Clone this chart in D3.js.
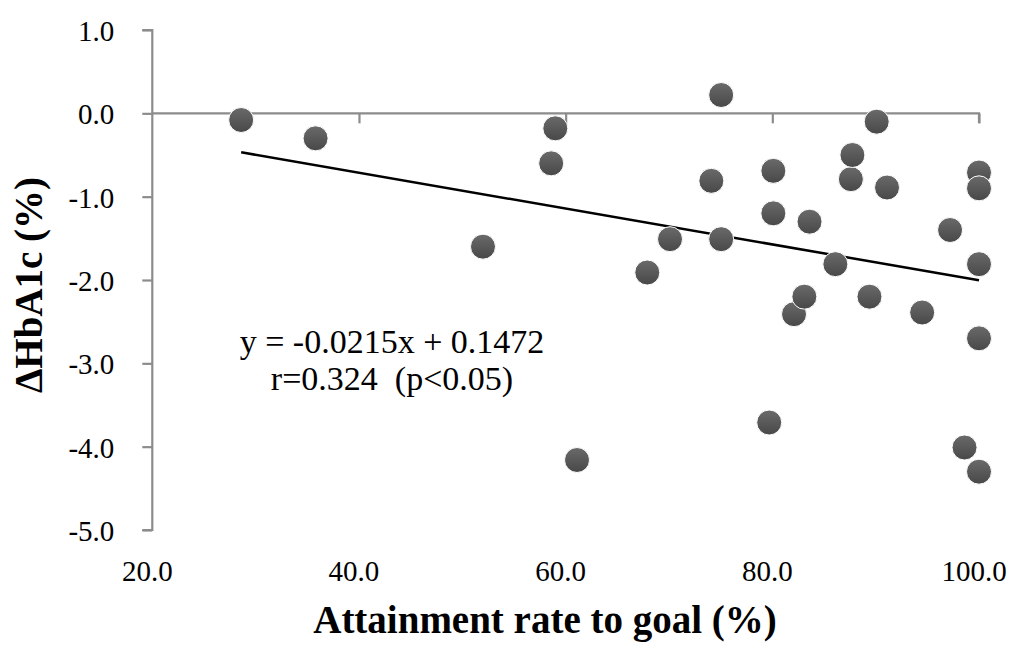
<!DOCTYPE html>
<html>
<head>
<meta charset="utf-8">
<script src="https://cdn.jsdelivr.net/npm/d3@7"></script>
<style>
  body { margin: 0; background: #fff; }
  svg text { font-family: "Liberation Serif", "Times New Roman", Times, "DejaVu Serif", serif; fill: #000; }
</style>
</head>
<body>
<svg id="chart" width="1016" height="646"></svg>
<script>
// values
const rate  = [28.6, 35.8, 52.0, 58.6, 59.0, 61.1, 67.9, 70.1, 74.1, 75.05, 75.05, 79.7, 80.1, 80.1, 82.1, 83.1, 83.6, 86.1, 87.6, 87.75, 89.4, 90.1, 91.1, 94.5, 97.2, 98.6, 100, 100, 100, 100, 100]
const dHbA1c = [-0.08, -0.30, -1.60, -0.60, -0.18, -4.16, -1.91, -1.51, -0.81, 0.22, -1.51, -3.71, -0.69, -1.20, -2.41, -2.20, -1.30, -1.81, -0.79, -0.50, -2.20, -0.10, -0.89, -2.39, -1.40, -4.01, -0.71, -0.90, -1.81, -2.70, -4.30]
const xTicks = [20, 40, 60, 80, 100]
const yTicks = [1, 0, -1, -2, -3, -4, -5]
const slope = -0.0215, intercept = 0.1472
const noteLines = ["y = -0.0215x + 0.1472", "r=0.324  (p<0.05)"]

const svg = d3.select("#chart")
const axisCol = "#8c8c8c"
const fmt = d => d.toFixed(1) // plain hyphen, like the original

const x = d3.scaleLinear().domain([20, 100]).range([152.3, 979])
const y = d3.scaleLinear().domain([-5, 1]).range([530, 30])

// marker gradient
const grad = svg.append("defs").append("linearGradient")
  .attr("id", "dot").attr("x1", 0).attr("y1", 0).attr("x2", 0).attr("y2", 1)
grad.append("stop").attr("offset", "0%").attr("stop-color", "#6a6a6a")
grad.append("stop").attr("offset", "100%").attr("stop-color", "#484848")

// y axis on the left
const yAxis = svg.append("g").attr("transform", `translate(${x(20)},0)`)
  .call(d3.axisLeft(y).tickValues(yTicks).tickSize(10).tickFormat(fmt))
yAxis.attr("font-family", null).attr("font-size", null)
yAxis.select(".domain").attr("stroke", axisCol).attr("stroke-width", 2.2)
  .attr("d", `M-10,${y(1)}H0V${y(-5)}H-10`)
yAxis.selectAll(".tick line").attr("stroke", axisCol).attr("stroke-width", 2.2)
yAxis.selectAll(".tick text").attr("x", -38).attr("dy", "0.36em")
  .style("font-size", "29px").attr("fill", "#000")

// x axis drawn at y = 0, labels sit below the plot
const xAxis = svg.append("g").attr("transform", `translate(0,${y(0)})`)
  .call(d3.axisBottom(x).tickValues(xTicks).tickSize(10).tickFormat(() => ""))
xAxis.select(".domain").attr("stroke", axisCol).attr("stroke-width", 2.2)
  .attr("d", `M${x(20)},0H${x(100)}V10`)
xAxis.selectAll(".tick line").attr("stroke", axisCol).attr("stroke-width", 2.2)
xAxis.selectAll(".tick").filter(d => d == 20).select("line").remove()

svg.append("g").selectAll("text").data(xTicks).enter().append("text")
  .attr("x", d => x(d) - 5).attr("y", 581)
  .attr("text-anchor", "middle")
  .style("font-size", "29px")
  .text(fmt)

// regression line
const xr = d3.extent(rate)
svg.append("line")
  .attr("x1", x(xr[0])).attr("y1", y(slope * xr[0] + intercept))
  .attr("x2", x(xr[1])).attr("y2", y(slope * xr[1] + intercept))
  .attr("stroke", "#000").attr("stroke-width", 2.5)

// points
svg.append("g").selectAll("circle").data(rate).enter().append("circle")
  .attr("cx", d => x(d))
  .attr("cy", (d, i) => y(dHbA1c[i]))
  .attr("r", 12.5)
  .attr("fill", "url(#dot)")
  .attr("stroke", "#fff").attr("stroke-width", 1)

// equation note
svg.append("g").selectAll("text").data(noteLines).enter().append("text")
  .attr("x", 392).attr("y", (d, i) => 353 + i * 37)
  .attr("text-anchor", "middle")
  .style("font-size", "34px")
  .style("white-space", "pre")
  .text(d => d)

// axis titles
svg.append("text")
  .attr("x", 545).attr("y", 633)
  .attr("text-anchor", "middle")
  .style("font-size", "39px").style("font-weight", "bold")
  .text("Attainment rate to goal (%)")

svg.append("text")
  .attr("transform", "translate(42,285) rotate(-90)")
  .attr("text-anchor", "middle")
  .style("font-size", "39px").style("font-weight", "bold")
  .text("ΔHbA1c (%)")
</script>
</body>
</html>
